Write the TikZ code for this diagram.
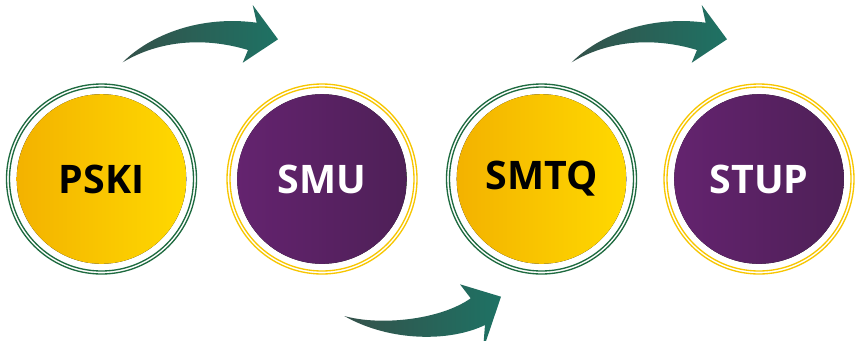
\documentclass[tikz,border=0pt]{standalone}
\usepackage{fontspec}
\setmainfont{Open Sans}
\definecolor{yelL}{HTML}{F3B200}
\definecolor{yelR}{HTML}{FFD900}
\definecolor{purL}{HTML}{64236F}
\definecolor{purR}{HTML}{4E2057}
\definecolor{ringG}{HTML}{1E6B40}
\definecolor{ringY}{HTML}{F7C600}
\definecolor{arrL}{HTML}{34514A}
\definecolor{arrR}{HTML}{1E7264}
\tikzset{
  yelfill/.style={left color=yelL, right color=yelR},
  purfill/.style={left color=purL, right color=purR},
  greenring/.style={draw=ringG, line width=1pt},
  goldring/.style={draw=ringY, line width=1pt},
  lbl/.style={font=\bfseries\fontsize{29.5}{32}\selectfont, inner sep=0pt},
  bigarrow/.style={left color=arrL, right color=arrR, draw=none},
}
\begin{document}
\begin{tikzpicture}[x=0.75pt, y=-0.75pt]
\clip (0,0) rectangle (856,340);
\fill[white] (0,0) rectangle (856,340);
% centres
\coordinate (c1) at (101.5,179);
\coordinate (c2) at (322,179);
\coordinate (c3) at (541.5,179);
\coordinate (c4) at (759,179);
% circles
\fill[yelfill] (c1) circle (84.8);
\draw[greenring] (c1) circle (92.0) (c1) circle (95.0);
\node[lbl, text=black] (n1) at (c1) {PSKI};

\fill[purfill] (c2) circle (84.8);
\draw[goldring] (c2) circle (92.0) (c2) circle (95.0);
\node[lbl, text=white] (n2) at (c2) {SMU};

\fill[yelfill] (c3) circle (84.8);
\draw[greenring] (c3) circle (92.0) (c3) circle (95.0);
\node[lbl, text=black] (n3) at (c3) {SMTQ};

\fill[purfill] (c4) circle (84.8);
\draw[goldring] (c4) circle (92.0) (c4) circle (95.0);
\node[lbl, text=white] (n4) at (c4) {STUP};

% arrow 1
\path[bigarrow] (122.7,62.3) .. controls (150,35) and (200,15) .. (256.7,22.7)
  -- (252.7,5) -- (278,39.3) -- (242.7,62.7) -- (248,50)
  .. controls (205,37) and (160,40) .. (122.7,62.3) -- cycle;
% arrow 2
\begin{scope}[xshift=449*0.75pt]
\path[bigarrow] (122.7,62.3) .. controls (150,35) and (200,15) .. (256.7,22.7)
  -- (252.7,5) -- (278,39.3) -- (242.7,62.7) -- (248,50)
  .. controls (205,37) and (160,40) .. (122.7,62.3) -- cycle;
\end{scope}
% arrow 3
\path[bigarrow] (344.3,316) .. controls (380,326) and (440,320) .. (470.7,298.3)
  -- (460,284.3) -- (501,296.7) -- (483,350) -- (485,325)
  .. controls (450,342) and (390,342) .. (344.3,316) -- cycle;
\end{tikzpicture}
\end{document}
